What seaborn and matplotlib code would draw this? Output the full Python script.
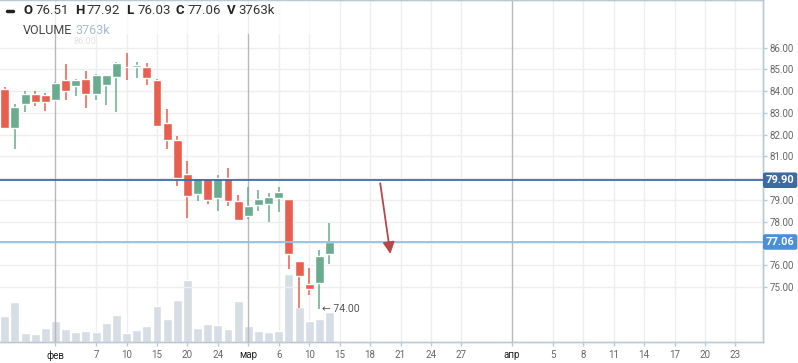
import numpy as np
import pandas as pd
import matplotlib
matplotlib.use("Agg")
import matplotlib.pyplot as plt
from matplotlib.patches import Rectangle
from matplotlib.lines import Line2D
import seaborn as sns

# daily candles, one per trading day (slot 5 = 1 feb, slot 32 = 14 mar)
opens = [84.10, 82.32, 83.42, 83.87, 83.82, 83.60, 84.51, 84.25, 84.56, 83.88, 84.29,
         84.66, 85.12, 85.09, 85.11, 84.51, 82.53, 81.75, 80.19, 79.28, 80.00, 79.10,
         80.00, 78.94, 78.27, 78.77, 78.82, 79.10, 79.04, 76.18, 75.13, 75.19, 76.51]
highs = [84.17, 83.41, 84.00, 83.99, 83.91, 84.42, 85.25, 84.56, 84.92, 84.79, 84.75,
         85.32, 85.75, 85.34, 85.29, 84.56, 83.18, 81.93, 80.78, 80.00, 80.00, 80.14,
         80.48, 79.22, 79.59, 79.45, 79.31, 79.59, 79.04, 76.18, 75.86, 76.69, 77.92]
lows = [82.25, 81.32, 83.05, 83.33, 83.08, 83.55, 83.59, 83.79, 83.24, 83.60, 83.37,
        83.05, 84.52, 84.62, 84.29, 82.41, 81.35, 79.65, 78.18, 78.96, 78.82, 78.50,
        78.73, 78.08, 78.13, 78.50, 77.99, 78.45, 75.82, 74.04, 74.63, 74.00, 76.03]
closes = [82.32, 83.27, 83.87, 83.51, 83.51, 84.37, 84.02, 84.51, 83.88, 84.75, 84.74,
          85.29, 85.09, 85.20, 84.62, 82.41, 81.76, 80.02, 79.19, 80.00, 79.00, 80.00,
          78.96, 78.08, 78.71, 79.04, 79.13, 79.36, 76.52, 75.51, 74.91, 76.41, 77.06]
volumes_k = [3260, 5020, 1130, 1000, 1760, 2630, 1630, 1250, 1380, 1250, 2380,
             3390, 1130, 1500, 2010, 4520, 2880, 5270, 7780, 1760, 2260, 2130,
             1630, 5140, 2010, 1380, 1250, 1380, 8530, 4390, 2630, 2880, 3763]

# x axis: trading-day slots up to 15 mar, calendar days after that
tick_slots = [5, 9, 12, 15, 18, 21, 24, 27, 30, 33, 36, 39, 42, 45, 50, 54, 57, 60, 63, 66, 69, 72]
tick_labels = ["фев", "7", "10", "15", "20", "24", "мар", "6", "10", "15", "18", "21",
               "24", "27", "апр", "5", "8", "11", "14", "17", "20", "23"]
month_slots = [5, 24, 50]
month_names = ["фев", "мар", "апр"]
price_ticks = [75, 76, 77, 78, 79, 80, 81, 82, 83, 84, 85, 86]

level_prices = [79.90, 77.06]
level_line_colors = ["#3f6ca6", "#93bfe9"]
level_box_colors = ["#3e6aa1", "#4a8fd7"]

arrow_from = (37.0, 79.76)
arrow_to = (38.0, 76.51)
low_slot = 31

up_col = "#6aac8e"
down_col = "#e95f4f"
vol_col = "#d6dde4"
edge_col = "#b9c9d5"
grid_col = "#eeeeee"

sns.set_style("white")
plt.rcParams["font.family"] = ["Roboto", "DejaVu Sans"]

df = pd.DataFrame({"slot": np.arange(len(opens)), "open": opens, "high": highs,
                   "low": lows, "close": closes, "volume": volumes_k})
df["color"] = np.where(df["close"] >= df["open"], up_col, down_col)

fig = plt.figure(figsize=(7.98, 3.63), dpi=100)
ax_vol = fig.add_axes([0, 21 / 363, 762.7 / 798, 342 / 363])
ax = ax_vol.twinx()

# volume at the bottom
for s in tick_slots:
    if s not in month_slots:
        ax_vol.axvline(s, color=grid_col, lw=1, zorder=0)
sns.barplot(data=df, x="slot", y="volume", native_scale=True, color=vol_col,
            saturation=1, width=0.88, errorbar=None, ax=ax_vol, zorder=1)
ax_vol.set_ylim(0, 42900)
ax_vol.set_yticks([])
ax_vol.set_xlabel("")
ax_vol.set_ylabel("")

# price grid + month separators
for p in price_ticks:
    ax.axhline(p, color=grid_col, lw=1, zorder=0.5)
for s in month_slots:
    ax.axvline(s, color="#b8b8b8", lw=1, zorder=1)

# candles
ax.vlines(df["slot"], df["low"], df["high"], colors=df["color"], lw=1.1, zorder=3)
body = (df["close"] - df["open"]).abs().clip(lower=0.03)
ax.bar(df["slot"], body, bottom=df[["open", "close"]].min(axis=1), width=0.88,
       color=df["color"], zorder=3)

# levels
for p, lc, bc in zip(level_prices, level_line_colors, level_box_colors):
    ax.axhline(p, color=lc, lw=1.3, zorder=4)
    ax.text(1.004, p, f"{p:.2f}", transform=ax.get_yaxis_transform(), ha="left",
            va="center", color="white", fontsize=8, fontweight="bold", zorder=6,
            clip_on=False,
            bbox=dict(boxstyle="round,pad=0.25,rounding_size=0.2", fc=bc, ec="none"))

ax.annotate("", xy=arrow_to, xytext=arrow_from, zorder=5,
            arrowprops=dict(arrowstyle="-|>,head_length=0.7,head_width=0.35",
                            color="#b5474a", lw=1.3, shrinkA=0, shrinkB=0))
ax.text(low_slot + 0.25, lows[low_slot], f"← {lows[low_slot]:.2f}", fontsize=7.5,
        color="#555555", ha="left", va="center", zorder=5)

ax.set_ylim(72.46, 88.19)
ax_vol.set_xlim(-0.469, 74.69)

# tick labels hidden under the level boxes are left blank
ax.set_yticks(price_ticks)
ax.set_yticklabels(["" if min(abs(p - lv) for lv in level_prices) < 0.3 else f"{p:.2f}"
                    for p in price_ticks])
ax.tick_params(axis="y", right=True, left=False, length=3, width=1, color=edge_col,
               labelsize=7, labelcolor="#666666", pad=2)
ax_vol.set_xticks(tick_slots)
ax_vol.set_xticklabels(tick_labels)
ax_vol.tick_params(axis="x", bottom=True, length=3, width=1, color=edge_col,
                   labelsize=7, labelcolor="#666666", pad=3)
for lbl in ax_vol.get_xticklabels():
    if lbl.get_text() in month_names:
        lbl.set_color("#222222")

for a in (ax, ax_vol):
    for side, sp in a.spines.items():
        sp.set_visible(side in ("top", "right", "bottom"))
        sp.set_color(edge_col)
        sp.set_linewidth(1)

# legend block top-left
ax.add_patch(Rectangle((0, 1 - 34 / 342), 320 / 762.7, 34 / 342, transform=ax.transAxes,
                       fc="white", alpha=0.75, ec="none", zorder=2))
fig.add_artist(Line2D([7 / 798, 13 / 798], [1 - 11 / 363] * 2, lw=2.5, color="#222222"))
fig.text(74 / 798, 1 - 42 / 363, "86.00", fontsize=6.5, color="#e4e4e4", va="center")

keys = ["O", "H", "L", "C", "V"]
vals = [f"{opens[-1]:.2f}", f"{highs[-1]:.2f}", f"{lows[-1]:.2f}", f"{closes[-1]:.2f}",
        f"{volumes_k[-1]}k"]
key_x = [24, 75, 126, 176, 227]
for kx, k, v in zip(key_x, keys, vals):
    fig.text(kx / 798, 1 - 11 / 363, k, fontsize=9.5, fontweight="bold",
             color="#222222", va="center")
    fig.text((kx + 11) / 798, 1 - 11 / 363, v, fontsize=9.5, color="#333333",
             va="center")

renderer = fig.canvas.get_renderer()
t = fig.text(23 / 798, 1 - 31 / 363, "VOLUME", fontsize=9, color="#444444", va="center")
x = 23 + t.get_window_extent(renderer).width + 3
fig.text(x / 798, 1 - 31 / 363, f"{volumes_k[-1]}k", fontsize=9, color="#a9bccd",
         va="center")

fig.savefig("out.png", dpi=100)
